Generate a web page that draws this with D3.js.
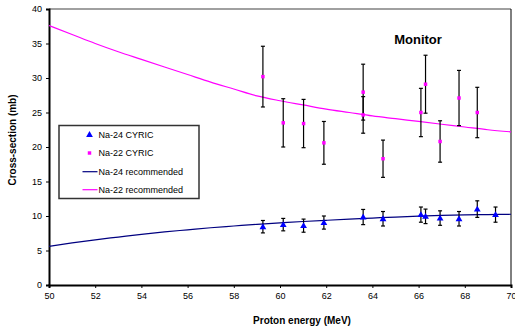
<!DOCTYPE html>
<html>
<head>
<meta charset="utf-8">
<script src="https://cdn.jsdelivr.net/npm/d3@7"></script>
<style>
  body { margin: 0; background: #fff; }
  svg { display: block; font-family: "Liberation Sans", Arial, sans-serif; }
</style>
</head>
<body>
<div id="chart"></div>
<script>
// measured points (Proton energy MeV, cross-section mb, +/- error)
const energies24 = [59.26, 60.14, 61.02, 61.9, 63.6, 64.46, 66.1, 66.3, 66.93, 67.75, 68.54, 69.33];
const values24 = [8.45, 8.75, 8.6, 9.05, 9.85, 9.6, 10.2, 9.95, 9.7, 9.6, 11.0, 10.2];
const errors24 = [0.9, 0.9, 0.95, 0.95, 1.1, 1.05, 1.1, 1.05, 1.05, 1.05, 1.2, 1.1];

const energies22 = [59.26, 60.14, 61.02, 61.9, 63.6, 63.6, 64.46, 66.1, 66.3, 66.93, 67.75, 68.54];
const values22 = [30.2, 23.5, 23.4, 20.6, 27.95, 24.65, 18.3, 25.0, 29.1, 20.8, 27.1, 25.0];
const errors22 = [4.4, 3.5, 3.5, 3.1, 4.05, 2.65, 2.7, 3.5, 4.2, 3.0, 4.0, 3.65];

// recommended curves
const curveEnergies = [50, 51, 52, 53, 54, 55, 56, 57, 58, 59, 60, 61, 62, 63, 64, 65, 66, 67, 68, 69, 70];
const rec24 = [5.6, 6.1, 6.55, 6.95, 7.35, 7.7, 8.0, 8.3, 8.55, 8.8, 9.0, 9.2, 9.38, 9.55, 9.7, 9.85, 9.98, 10.08, 10.15, 10.2, 10.25];
const rec22 = [37.6, 36.3, 35.0, 33.8, 32.7, 31.6, 30.5, 29.4, 28.4, 27.4, 26.7, 26.1, 25.5, 25.0, 24.5, 24.1, 23.7, 23.3, 22.9, 22.5, 22.2];

const xTicks = [50, 52, 54, 56, 58, 60, 62, 64, 66, 68, 70];
const yTicks = [0, 5, 10, 15, 20, 25, 30, 35, 40];

const legendLabels = ['Na-24 CYRIC', 'Na-22 CYRIC', 'Na-24 recommended', 'Na-22 recommended'];

const width = 515, height = 330;
const margin = { top: 9, right: 4, bottom: 45, left: 49 };

const svg = d3.select('#chart').append('svg')
    .attr('width', width)
    .attr('height', height);

const x = d3.scaleLinear().domain([50, 70]).range([margin.left, width - margin.right]);
const y = d3.scaleLinear().domain([0, 40]).range([height - margin.bottom, margin.top]);

// frame: top grey, right black
svg.append('line')
    .attr('x1', x(50)).attr('x2', x(70))
    .attr('y1', y(40)).attr('y2', y(40))
    .attr('stroke', '#808080').attr('stroke-width', 1.5);
svg.append('line')
    .attr('x1', x(70)).attr('x2', x(70))
    .attr('y1', y(40)).attr('y2', y(0))
    .attr('stroke', '#000').attr('stroke-width', 1);

// axes
const xAxis = svg.append('g')
    .attr('transform', `translate(0,${y(0)})`)
    .call(d3.axisBottom(x).tickValues(xTicks).tickSize(3).tickPadding(5));
const yAxis = svg.append('g')
    .attr('transform', `translate(${x(50)},0)`)
    .call(d3.axisLeft(y).tickValues(yTicks).tickSize(3).tickPadding(4));

[xAxis, yAxis].forEach(g => {
    g.select('.domain').attr('stroke', '#000').attr('stroke-width', 2);
    g.selectAll('.tick line').attr('stroke', '#000');
    g.selectAll('.tick text')
        .attr('font-family', '"Liberation Sans", Arial, sans-serif')
        .attr('font-size', '9px')
        .attr('fill', '#000');
});

// axis titles
svg.append('text')
    .attr('x', 302)
    .attr('y', 324)
    .attr('text-anchor', 'middle')
    .attr('font-size', '10px')
    .attr('font-weight', 'bold')
    .text('Proton energy (MeV)');

svg.append('text')
    .attr('transform', `translate(16,140) rotate(-90)`)
    .attr('text-anchor', 'middle')
    .attr('font-size', '10px')
    .attr('font-weight', 'bold')
    .text('Cross-section (mb)');

svg.append('text')
    .attr('x', 418)
    .attr('y', 44)
    .attr('text-anchor', 'middle')
    .attr('font-size', '13px')
    .attr('font-weight', 'bold')
    .text('Monitor');

// recommended curves
const line = d3.line()
    .x(d => x(d[0]))
    .y(d => y(d[1]))
    .curve(d3.curveMonotoneX);

svg.append('path')
    .attr('d', line(curveEnergies.map((e, i) => [e, rec22[i]])))
    .attr('fill', 'none')
    .attr('stroke', '#ff00ff')
    .attr('stroke-width', 1.2);

svg.append('path')
    .attr('d', line(curveEnergies.map((e, i) => [e, rec24[i]])))
    .attr('fill', 'none')
    .attr('stroke', '#000080')
    .attr('stroke-width', 1.2);

// error bars
function drawErrors(energies, values, errors) {
    const g = svg.append('g');
    energies.forEach((e, i) => {
        const top = y(values[i] + errors[i]);
        const bot = y(values[i] - errors[i]);
        g.append('line')
            .attr('x1', x(e)).attr('x2', x(e))
            .attr('y1', top).attr('y2', bot)
            .attr('stroke', '#000').attr('stroke-width', 1.2);
        [top, bot].forEach(yy => {
            g.append('line')
                .attr('x1', x(e) - 2).attr('x2', x(e) + 2)
                .attr('y1', yy).attr('y2', yy)
                .attr('stroke', '#000').attr('stroke-width', 1.2);
        });
    });
}
drawErrors(energies22, values22, errors22);
drawErrors(energies24, values24, errors24);

// markers
const tri = d3.symbol().type(d3.symbolTriangle).size(20);
const dia = d3.symbol().type(d3.symbolSquare).size(12);

svg.append('g').selectAll('path')
    .data(energies22)
    .enter()
    .append('path')
    .attr('d', dia)
    .attr('transform', (d, i) => `translate(${x(d)},${y(values22[i])})`)
    .attr('fill', '#ff00ff');

svg.append('g').selectAll('path')
    .data(energies24)
    .enter()
    .append('path')
    .attr('d', tri)
    .attr('transform', (d, i) => `translate(${x(d)},${y(values24[i]) + 0.5})`)
    .attr('fill', '#0000ff');

// legend
const legend = svg.append('g');
legend.append('rect')
    .attr('x', 59).attr('y', 125.5)
    .attr('width', 140).attr('height', 73)
    .attr('fill', '#fff')
    .attr('stroke', '#333')
    .attr('stroke-width', 1.5);

const rowY = [134.5, 153, 171.7, 189.7];
legend.append('path')
    .attr('d', tri)
    .attr('transform', `translate(89.5,${rowY[0] + 0.5})`)
    .attr('fill', '#0000ff');
legend.append('path')
    .attr('d', dia)
    .attr('transform', `translate(89.5,${rowY[1]})`)
    .attr('fill', '#ff00ff');
legend.append('line')
    .attr('x1', 82.5).attr('x2', 97.5)
    .attr('y1', rowY[2]).attr('y2', rowY[2])
    .attr('stroke', '#000080').attr('stroke-width', 1.2);
legend.append('line')
    .attr('x1', 82.5).attr('x2', 97.5)
    .attr('y1', rowY[3]).attr('y2', rowY[3])
    .attr('stroke', '#ff00ff').attr('stroke-width', 1.2);

legend.selectAll('text')
    .data(legendLabels)
    .enter()
    .append('text')
    .attr('x', 98.5)
    .attr('y', (d, i) => rowY[i])
    .attr('dy', '0.35em')
    .attr('font-size', '9px')
    .attr('fill', '#000')
    .text(d => d);
</script>
</body>
</html>
